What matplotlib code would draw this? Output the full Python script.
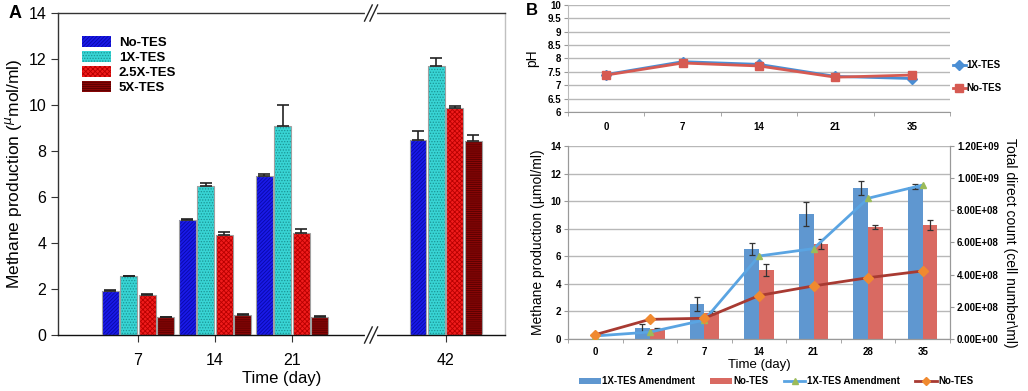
import matplotlib
matplotlib.use('Agg')
import matplotlib.pyplot as plt
import numpy as np
from matplotlib.patches import Patch
from matplotlib.lines import Line2D
from matplotlib.ticker import FuncFormatter, FixedLocator

plt.rcParams['font.family'] = ['Liberation Sans', 'DejaVu Sans']
plt.rcParams['hatch.linewidth'] = 0.6

# ---- panel A data ----
days_a = ['7', '14', '21', '42']
pos_a = [1, 2, 3, 5]   # 42 sits after the axis break
series_a = ['No-TES', '1X-TES', '2.5X-TES', '5X-TES']
no_tes = [1.9, 5.0, 6.9, 8.5]
no_tes_err = [0.05, 0.06, 0.1, 0.35]
tes_1x = [2.55, 6.5, 9.1, 11.7]
tes_1x_err = [0.0, 0.1, 0.9, 0.35]
tes_25x = [1.75, 4.35, 4.45, 9.85]
tes_25x_err = [0.04, 0.12, 0.15, 0.1]
tes_5x = [0.78, 0.85, 0.8, 8.45]
tes_5x_err = [0.0, 0.05, 0.03, 0.25]

# ---- panel B pH data ----
days_ph = ['0', '7', '14', '21', '35']
ph_1x = [7.4, 7.88, 7.78, 7.33, 7.25]
ph_no = [7.38, 7.83, 7.72, 7.3, 7.38]

# ---- panel B methane / cell count data ----
days_b = ['0', '2', '7', '14', '21', '28', '35']
meth_1x = [0.0, 0.82, 2.56, 6.5, 9.07, 10.93, 11.05]
meth_1x_err = [0.0, 0.3, 0.5, 0.44, 0.87, 0.5, 0.2]
meth_no = [0.0, 0.73, 1.9, 4.98, 6.92, 8.15, 8.27]
meth_no_err = [0.0, 0.05, 0.1, 0.44, 0.36, 0.15, 0.39]
cells_1x = [1.9e7, 4.3e7, 1.18e8, 5.16e8, 5.62e8, 8.75e8, 9.57e8]
cells_no = [2.7e7, 1.22e8, 1.29e8, 2.7e8, 3.3e8, 3.81e8, 4.23e8]

fig = plt.figure(figsize=(10.28, 3.91), dpi=100)

# =================== panel A ===================
ax = fig.add_axes([0.0564, 0.1432, 0.4348, 0.8235])
faces = ['#1a1ae8', '#38d4d4', '#f01c1c', '#8a0606']
hcols = ['#0808a8', '#1a9494', '#b80000', '#560000']
hatches = ['/////////', '......', 'xxxxxxx', '--------']
vals = [no_tes, tes_1x, tes_25x, tes_5x]
errs = [no_tes_err, tes_1x_err, tes_25x_err, tes_5x_err]
w = 0.22
pitch = 0.24
x = np.array(pos_a, dtype=float)
for i in range(4):
    xi = x + (i - 1.5) * pitch
    ax.bar(xi, vals[i], w, color=faces[i], edgecolor=hcols[i], hatch=hatches[i], linewidth=0, zorder=2)
    ax.bar(xi, vals[i], w, fill=False, edgecolor='#a0a0a0', linewidth=0.8, zorder=3)
    ax.errorbar(xi, vals[i], yerr=[np.zeros(4), errs[i]], fmt='none', ecolor='#222222',
                elinewidth=1.2, capsize=4, capthick=1.2, zorder=4)

ax.set_xlim(-0.04, 5.77)
ax.set_ylim(0, 14)
ax.set_yticks(range(0, 15, 2))
ax.set_xticks(pos_a)
ax.set_xticklabels(days_a)
ax.tick_params(labelsize=11.5, direction='out', length=5, color='#333333')
ax.tick_params(axis='x', pad=8)
ax.set_ylabel('Methane production ($^{\\mu}$mol/ml)', fontsize=12.5, labelpad=3)
ax.set_xlabel('Time (day)', fontsize=12, labelpad=2)
for s in ['left', 'top']:
    ax.spines[s].set_color('#333333')
ax.spines['right'].set_color('#c0c0c0')
ax.spines['bottom'].set_color('#111111')
for s in ax.spines.values():
    s.set_linewidth(1.0)

# axis break marks
bx = 4.03
trans = ax.get_xaxis_transform()
for yb in [0.0, 1.0]:
    ax.plot([bx - 0.05, bx + 0.05], [yb, yb], color='white', lw=3, transform=trans, clip_on=False, zorder=5)
    for dx in [-0.035, 0.035]:
        ax.plot([bx + dx - 0.05, bx + dx + 0.05], [yb - 0.025, yb + 0.025], color='#222222', lw=1.0,
                transform=trans, clip_on=False, zorder=6)

handles = [Patch(facecolor=faces[i], edgecolor=hcols[i], hatch=hatches[i], linewidth=0) for i in range(4)]
ax.legend(handles, series_a, loc='upper left', bbox_to_anchor=(0.027, 0.965), frameon=False,
          prop={'weight': 'bold', 'size': 9.5}, handlelength=2.2, handleheight=0.9, labelspacing=0.15,
          handletextpad=0.6)
fig.text(0.008, 0.965, 'A', fontsize=13, fontweight='bold', va='center')

# =================== panel B top: pH ===================
grid_col = '#b8b8b8'
bx1 = fig.add_axes([0.5525, 0.7136, 0.3716, 0.2737])
xp = np.arange(len(days_ph))
bx1.plot(xp, ph_1x, color='#4a8ed4', lw=2, marker='D', ms=5, label='1X-TES', zorder=3)
bx1.plot(xp, ph_no, color='#d65a52', lw=2, marker='s', ms=6, label='No-TES', zorder=4)
bx1.set_xlim(-0.5, len(days_ph) - 0.5)
bx1.set_ylim(6, 10)
bx1.set_yticks(np.arange(6, 10.01, 0.5))
bx1.set_yticklabels(['6', '6.5', '7', '7.5', '8', '8.5', '9', '9.5', '10'])
bx1.set_xticks(xp)
bx1.set_xticklabels(days_ph)
bx1.xaxis.set_minor_locator(FixedLocator(np.arange(-0.5, len(days_ph), 1.0)))
bx1.tick_params(axis='x', which='major', length=0, pad=7)
bx1.tick_params(axis='x', which='minor', length=3, color='#999999')
bx1.tick_params(axis='y', length=3, color='#999999', pad=2)
bx1.tick_params(labelsize=7)
for lab in bx1.get_xticklabels() + bx1.get_yticklabels():
    lab.set_fontweight('bold')
bx1.grid(axis='y', color=grid_col, lw=1.0)
bx1.set_axisbelow(True)
for s in ['top', 'right']:
    bx1.spines[s].set_visible(False)
bx1.spines['left'].set_color('#bbbbbb')
bx1.spines['bottom'].set_color('#999999')
bx1.set_ylabel('pH', fontsize=10, labelpad=6)
bx1.legend(loc='center left', bbox_to_anchor=(0.985, 0.33), frameon=False,
           prop={'weight': 'bold', 'size': 7}, handlelength=1.3, handletextpad=0.1, labelspacing=1.3)
fig.text(0.512, 0.972, 'B', fontsize=12, fontweight='bold', va='center')

# =================== panel B bottom ===================
bx2 = fig.add_axes([0.5525, 0.133, 0.3716, 0.4936])
xb = np.arange(len(days_b))
bw = 0.27
blue_bar = '#5f97d0'
red_bar = '#d96a62'
bx2.bar(xb - bw / 2, meth_1x, bw, color=blue_bar, zorder=2)
bx2.bar(xb + bw / 2, meth_no, bw, color=red_bar, zorder=2)
m1 = np.array(meth_1x) > 0
m2 = np.array(meth_no) > 0
bx2.errorbar((xb - bw / 2)[m1], np.array(meth_1x)[m1], yerr=np.array(meth_1x_err)[m1], fmt='none',
             ecolor='#333333', elinewidth=0.9, capsize=2.5, capthick=0.9, zorder=3)
bx2.errorbar((xb + bw / 2)[m2], np.array(meth_no)[m2], yerr=np.array(meth_no_err)[m2], fmt='none',
             ecolor='#333333', elinewidth=0.9, capsize=2.5, capthick=0.9, zorder=3)
bx2.set_xlim(-0.5, len(days_b) - 0.5)
bx2.set_ylim(0, 14)
bx2.set_yticks(range(0, 15, 2))
bx2.set_xticks(xb)
bx2.set_xticklabels(days_b)
bx2.xaxis.set_minor_locator(FixedLocator(np.arange(-0.5, len(days_b), 1.0)))
bx2.tick_params(axis='x', which='major', length=0, pad=6)
bx2.tick_params(axis='x', which='minor', length=3, color='#999999')
bx2.tick_params(axis='y', length=3, color='#999999', pad=2)
bx2.tick_params(labelsize=7)
for lab in bx2.get_xticklabels() + bx2.get_yticklabels():
    lab.set_fontweight('bold')
bx2.grid(axis='y', color=grid_col, lw=1.0)
bx2.set_axisbelow(True)
bx2.spines['top'].set_visible(False)
for s in ['left', 'right', 'bottom']:
    bx2.spines[s].set_color('#999999')
bx2.set_ylabel('Methane production (µmol/ml)', fontsize=10, labelpad=4)
bx2.set_xlabel('Time (day)', fontsize=9.5, labelpad=1)

bx3 = bx2.twinx()
bx3.plot(xb, cells_1x, color='#5aa4e2', lw=2, marker='^', ms=5, mfc='#9bbb59', mec='#9bbb59', zorder=4)
bx3.plot(xb, cells_no, color='#a83a32', lw=2, marker='D', ms=5, mfc='#f08a30', mec='#f08a30', zorder=5)
bx3.set_ylim(0, 1.2e9)
bx3.set_yticks(np.arange(0, 1.21e9, 2e8))
bx3.yaxis.set_major_formatter(FuncFormatter(lambda v, p: f'{v:.2E}'))
bx3.tick_params(axis='y', labelsize=7, length=3, color='#999999', pad=2)
for lab in bx3.get_yticklabels():
    lab.set_fontweight('bold')
bx3.yaxis.get_offset_text().set_visible(False)
bx3.spines['top'].set_visible(False)
for s in ['left', 'right', 'bottom']:
    bx3.spines[s].set_color('#999999')
bx3.set_ylabel('Total direct count (cell number\\ml)', fontsize=10, rotation=270, labelpad=13)

leg_handles = [Patch(facecolor=blue_bar), Patch(facecolor=red_bar),
               Line2D([], [], color='#5aa4e2', lw=2, marker='^', ms=4, mfc='#9bbb59', mec='#9bbb59'),
               Line2D([], [], color='#a83a32', lw=2, marker='D', ms=4, mfc='#f08a30', mec='#f08a30')]
leg_labels = ['1X-TES Amendment', 'No-TES', '1X-TES Amendment', 'No-TES']
fig.legend(leg_handles, leg_labels, loc='center', bbox_to_anchor=(0.755, 0.025), ncol=4, frameon=False,
           prop={'weight': 'bold', 'size': 7}, handlelength=2.2, handleheight=0.6, handletextpad=0.15,
           columnspacing=1.6)

fig.savefig('out.png', dpi=100)
